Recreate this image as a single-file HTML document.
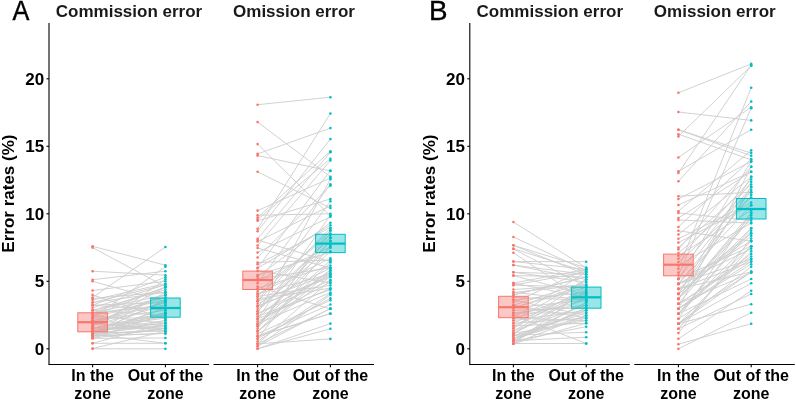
<!DOCTYPE html>
<html><head><meta charset="utf-8"><style>
html,body{margin:0;padding:0;background:#fff;overflow:hidden;width:796px;height:400px;}
svg{display:block;filter:blur(0.35px);}
text{font-family:"Liberation Sans",sans-serif;}
</style></head><body>
<svg width="796" height="400" viewBox="0 0 796 400">
<rect width="796" height="400" fill="#fff"/>

<g stroke="#cfcfcf" stroke-width="0.95" fill="none">
<path d="M92.6 246.3L165.4 265.2M92.6 247.6L165.4 286.7M92.6 297.5L165.4 247.0M92.6 271.2L165.4 275.2M92.6 279.7L165.4 271.2M92.6 281.3L165.4 301.6M92.6 290.5L165.4 281.3M92.6 294.9L165.4 319.1M92.6 298.4L165.4 292.1M92.6 348.8L165.4 348.8M92.6 343.3L165.4 343.3M92.6 343.3L165.4 323.2M92.6 338.3L165.4 338.0M92.6 338.3L165.4 313.7M92.6 348.5L165.4 331.2M92.6 334.2L165.4 343.3M92.6 338.3L165.4 328.6M92.6 336.0L165.4 333.4M92.6 336.0L165.4 333.4M92.6 333.4L165.4 330.8M92.6 333.4L165.4 330.8M92.6 323.2L165.4 330.8M92.6 328.3L165.4 328.3M92.6 336.0L165.4 328.3M92.6 323.2L165.4 328.3M92.6 320.6L165.4 325.7M92.6 330.8L165.4 325.7M92.6 333.4L165.4 325.7M92.6 315.5L165.4 323.2M92.6 330.8L165.4 323.2M92.6 330.8L165.4 323.2M92.6 336.0L165.4 320.6M92.6 330.8L165.4 320.6M92.6 328.3L165.4 318.0M92.6 318.0L165.4 318.0M92.6 310.3L165.4 315.5M92.6 333.4L165.4 315.5M92.6 328.3L165.4 315.5M92.6 328.3L165.4 312.9M92.6 333.4L165.4 312.9M92.6 328.3L165.4 312.9M92.6 305.2L165.4 310.3M92.6 320.6L165.4 310.3M92.6 336.0L165.4 307.8M92.6 333.4L165.4 307.8M92.6 325.7L165.4 305.2M92.6 312.9L165.4 305.2M92.6 323.2L165.4 302.6M92.6 320.6L165.4 302.6M92.6 305.2L165.4 302.6M92.6 315.5L165.4 300.1M92.6 333.4L165.4 300.1M92.6 333.4L165.4 300.1M92.6 312.9L165.4 297.5M92.6 318.0L165.4 297.5M92.6 325.7L165.4 294.9M92.6 310.3L165.4 294.9M92.6 323.2L165.4 294.9M92.6 302.6L165.4 292.4M92.6 333.4L165.4 292.4M92.6 310.3L165.4 289.8M92.6 325.7L165.4 287.2M92.6 312.9L165.4 287.2M92.6 315.5L165.4 287.2M92.6 307.8L165.4 284.7M92.6 302.6L165.4 284.7M92.6 300.1L165.4 283.5M92.6 330.8L165.4 279.3M92.6 305.2L165.4 277.2M92.6 318.0L165.4 266.7"/>
</g>
<g fill="#F8766D">
<circle cx="92.6" cy="246.3" r="1.3"/><circle cx="92.6" cy="247.6" r="1.3"/><circle cx="92.6" cy="297.5" r="1.3"/><circle cx="92.6" cy="271.2" r="1.3"/><circle cx="92.6" cy="279.7" r="1.3"/><circle cx="92.6" cy="281.3" r="1.3"/><circle cx="92.6" cy="290.5" r="1.3"/><circle cx="92.6" cy="294.9" r="1.3"/><circle cx="92.6" cy="298.4" r="1.3"/><circle cx="92.6" cy="348.8" r="1.3"/><circle cx="92.6" cy="343.3" r="1.3"/><circle cx="92.6" cy="343.3" r="1.3"/><circle cx="92.6" cy="338.3" r="1.3"/><circle cx="92.6" cy="338.3" r="1.3"/><circle cx="92.6" cy="348.5" r="1.3"/><circle cx="92.6" cy="334.2" r="1.3"/><circle cx="92.6" cy="338.3" r="1.3"/><circle cx="92.6" cy="336.0" r="1.3"/><circle cx="92.6" cy="336.0" r="1.3"/><circle cx="92.6" cy="333.4" r="1.3"/><circle cx="92.6" cy="333.4" r="1.3"/><circle cx="92.6" cy="323.2" r="1.3"/><circle cx="92.6" cy="328.3" r="1.3"/><circle cx="92.6" cy="336.0" r="1.3"/><circle cx="92.6" cy="323.2" r="1.3"/><circle cx="92.6" cy="320.6" r="1.3"/><circle cx="92.6" cy="330.8" r="1.3"/><circle cx="92.6" cy="333.4" r="1.3"/><circle cx="92.6" cy="315.5" r="1.3"/><circle cx="92.6" cy="330.8" r="1.3"/><circle cx="92.6" cy="330.8" r="1.3"/><circle cx="92.6" cy="336.0" r="1.3"/><circle cx="92.6" cy="330.8" r="1.3"/><circle cx="92.6" cy="328.3" r="1.3"/><circle cx="92.6" cy="318.0" r="1.3"/><circle cx="92.6" cy="310.3" r="1.3"/><circle cx="92.6" cy="333.4" r="1.3"/><circle cx="92.6" cy="328.3" r="1.3"/><circle cx="92.6" cy="328.3" r="1.3"/><circle cx="92.6" cy="333.4" r="1.3"/><circle cx="92.6" cy="328.3" r="1.3"/><circle cx="92.6" cy="305.2" r="1.3"/><circle cx="92.6" cy="320.6" r="1.3"/><circle cx="92.6" cy="336.0" r="1.3"/><circle cx="92.6" cy="333.4" r="1.3"/><circle cx="92.6" cy="325.7" r="1.3"/><circle cx="92.6" cy="312.9" r="1.3"/><circle cx="92.6" cy="323.2" r="1.3"/><circle cx="92.6" cy="320.6" r="1.3"/><circle cx="92.6" cy="305.2" r="1.3"/><circle cx="92.6" cy="315.5" r="1.3"/><circle cx="92.6" cy="333.4" r="1.3"/><circle cx="92.6" cy="333.4" r="1.3"/><circle cx="92.6" cy="312.9" r="1.3"/><circle cx="92.6" cy="318.0" r="1.3"/><circle cx="92.6" cy="325.7" r="1.3"/><circle cx="92.6" cy="310.3" r="1.3"/><circle cx="92.6" cy="323.2" r="1.3"/><circle cx="92.6" cy="302.6" r="1.3"/><circle cx="92.6" cy="333.4" r="1.3"/><circle cx="92.6" cy="310.3" r="1.3"/><circle cx="92.6" cy="325.7" r="1.3"/><circle cx="92.6" cy="312.9" r="1.3"/><circle cx="92.6" cy="315.5" r="1.3"/><circle cx="92.6" cy="307.8" r="1.3"/><circle cx="92.6" cy="302.6" r="1.3"/><circle cx="92.6" cy="300.1" r="1.3"/><circle cx="92.6" cy="330.8" r="1.3"/><circle cx="92.6" cy="305.2" r="1.3"/><circle cx="92.6" cy="318.0" r="1.3"/>
</g>
<g fill="#00BFC4">
<circle cx="165.4" cy="265.2" r="1.3"/><circle cx="165.4" cy="286.7" r="1.3"/><circle cx="165.4" cy="247.0" r="1.3"/><circle cx="165.4" cy="275.2" r="1.3"/><circle cx="165.4" cy="271.2" r="1.3"/><circle cx="165.4" cy="301.6" r="1.3"/><circle cx="165.4" cy="281.3" r="1.3"/><circle cx="165.4" cy="319.1" r="1.3"/><circle cx="165.4" cy="292.1" r="1.3"/><circle cx="165.4" cy="348.8" r="1.3"/><circle cx="165.4" cy="343.3" r="1.3"/><circle cx="165.4" cy="323.2" r="1.3"/><circle cx="165.4" cy="338.0" r="1.3"/><circle cx="165.4" cy="313.7" r="1.3"/><circle cx="165.4" cy="331.2" r="1.3"/><circle cx="165.4" cy="343.3" r="1.3"/><circle cx="165.4" cy="328.6" r="1.3"/><circle cx="165.4" cy="333.4" r="1.3"/><circle cx="165.4" cy="333.4" r="1.3"/><circle cx="165.4" cy="330.8" r="1.3"/><circle cx="165.4" cy="330.8" r="1.3"/><circle cx="165.4" cy="330.8" r="1.3"/><circle cx="165.4" cy="328.3" r="1.3"/><circle cx="165.4" cy="328.3" r="1.3"/><circle cx="165.4" cy="328.3" r="1.3"/><circle cx="165.4" cy="325.7" r="1.3"/><circle cx="165.4" cy="325.7" r="1.3"/><circle cx="165.4" cy="325.7" r="1.3"/><circle cx="165.4" cy="323.2" r="1.3"/><circle cx="165.4" cy="323.2" r="1.3"/><circle cx="165.4" cy="323.2" r="1.3"/><circle cx="165.4" cy="320.6" r="1.3"/><circle cx="165.4" cy="320.6" r="1.3"/><circle cx="165.4" cy="318.0" r="1.3"/><circle cx="165.4" cy="318.0" r="1.3"/><circle cx="165.4" cy="315.5" r="1.3"/><circle cx="165.4" cy="315.5" r="1.3"/><circle cx="165.4" cy="315.5" r="1.3"/><circle cx="165.4" cy="312.9" r="1.3"/><circle cx="165.4" cy="312.9" r="1.3"/><circle cx="165.4" cy="312.9" r="1.3"/><circle cx="165.4" cy="310.3" r="1.3"/><circle cx="165.4" cy="310.3" r="1.3"/><circle cx="165.4" cy="307.8" r="1.3"/><circle cx="165.4" cy="307.8" r="1.3"/><circle cx="165.4" cy="305.2" r="1.3"/><circle cx="165.4" cy="305.2" r="1.3"/><circle cx="165.4" cy="302.6" r="1.3"/><circle cx="165.4" cy="302.6" r="1.3"/><circle cx="165.4" cy="302.6" r="1.3"/><circle cx="165.4" cy="300.1" r="1.3"/><circle cx="165.4" cy="300.1" r="1.3"/><circle cx="165.4" cy="300.1" r="1.3"/><circle cx="165.4" cy="297.5" r="1.3"/><circle cx="165.4" cy="297.5" r="1.3"/><circle cx="165.4" cy="294.9" r="1.3"/><circle cx="165.4" cy="294.9" r="1.3"/><circle cx="165.4" cy="294.9" r="1.3"/><circle cx="165.4" cy="292.4" r="1.3"/><circle cx="165.4" cy="292.4" r="1.3"/><circle cx="165.4" cy="289.8" r="1.3"/><circle cx="165.4" cy="287.2" r="1.3"/><circle cx="165.4" cy="287.2" r="1.3"/><circle cx="165.4" cy="287.2" r="1.3"/><circle cx="165.4" cy="284.7" r="1.3"/><circle cx="165.4" cy="284.7" r="1.3"/><circle cx="165.4" cy="283.5" r="1.3"/><circle cx="165.4" cy="279.3" r="1.3"/><circle cx="165.4" cy="277.2" r="1.3"/><circle cx="165.4" cy="266.7" r="1.3"/>
</g>
<rect x="77.8" y="312.8" width="29.6" height="19.0" fill="#F8766D" fill-opacity="0.4" stroke="#F8766D" stroke-width="1"/>
<line x1="77.8" x2="107.4" y1="322.2" y2="322.2" stroke="#F8766D" stroke-width="2.2"/>
<rect x="150.6" y="298.0" width="29.6" height="19.2" fill="#00BFC4" fill-opacity="0.4" stroke="#00BFC4" stroke-width="1"/>
<line x1="150.6" x2="180.2" y1="308.0" y2="308.0" stroke="#00BFC4" stroke-width="2.2"/>
<g stroke="#cfcfcf" stroke-width="0.95" fill="none">
<path d="M257.6 104.7L330.4 97.2M257.6 122.1L330.4 176.7M257.6 144.1L330.4 215.8M257.6 153.9L330.4 128.1M257.6 155.6L330.4 171.0M257.6 171.8L330.4 208.0M257.6 228.8L330.4 113.5M257.6 231.2L330.4 139.1M257.6 217.6L330.4 151.2M257.6 219.5L330.4 158.7M257.6 238.8L330.4 152.2M257.6 267.8L330.4 170.6M257.6 348.8L330.4 328.8M257.6 343.8L330.4 338.9M257.6 348.8L330.4 323.6M257.6 336.3L330.4 313.7M257.6 336.3L330.4 313.6M257.6 286.5L330.4 309.0M257.6 343.8L330.4 308.7M257.6 346.3L330.4 308.4M257.6 336.3L330.4 304.5M257.6 333.8L330.4 300.3M257.6 338.8L330.4 298.3M257.6 346.3L330.4 294.9M257.6 341.3L330.4 293.5M257.6 323.8L330.4 292.5M257.6 316.3L330.4 289.7M257.6 318.8L330.4 288.6M257.6 298.9L330.4 288.2M257.6 296.4L330.4 285.4M257.6 270.7L330.4 283.0M257.6 321.3L330.4 282.2M257.6 343.8L330.4 280.4M257.6 313.8L330.4 280.1M257.6 306.3L330.4 277.2M257.6 331.3L330.4 276.6M257.6 306.3L330.4 275.9M257.6 313.8L330.4 274.5M257.6 293.9L330.4 273.9M257.6 301.3L330.4 273.5M257.6 331.3L330.4 271.9M257.6 326.3L330.4 270.6M257.6 323.8L330.4 269.8M257.6 303.8L330.4 268.1M257.6 248.0L330.4 268.0M257.6 278.9L330.4 267.8M257.6 288.4L330.4 265.6M257.6 331.3L330.4 262.5M257.6 240.0L330.4 261.7M257.6 323.8L330.4 260.5M257.6 262.5L330.4 260.1M257.6 293.9L330.4 258.4M257.6 275.1L330.4 252.2M257.6 318.8L330.4 251.4M257.6 308.8L330.4 247.7M257.6 280.4L330.4 247.1M257.6 338.8L330.4 245.2M257.6 311.3L330.4 241.3M257.6 326.3L330.4 240.9M257.6 306.3L330.4 238.3M257.6 311.3L330.4 237.2M257.6 291.4L330.4 234.7M257.6 326.3L330.4 233.6M257.6 296.4L330.4 231.0M257.6 328.8L330.4 229.9M257.6 301.3L330.4 228.4M257.6 264.2L330.4 227.7M257.6 268.1L330.4 225.3M257.6 276.6L330.4 222.7M257.6 252.5L330.4 216.8M257.6 318.8L330.4 215.2M257.6 215.2L330.4 213.8M257.6 241.5L330.4 205.8M257.6 301.3L330.4 201.2M257.6 220.8L330.4 199.0M257.6 257.5L330.4 185.7M257.6 283.3L330.4 184.2M257.6 313.8L330.4 179.2M257.6 210.6L330.4 178.0M257.6 245.5L330.4 160.5"/>
</g>
<g fill="#F8766D">
<circle cx="257.6" cy="104.7" r="1.3"/><circle cx="257.6" cy="122.1" r="1.3"/><circle cx="257.6" cy="144.1" r="1.3"/><circle cx="257.6" cy="153.9" r="1.3"/><circle cx="257.6" cy="155.6" r="1.3"/><circle cx="257.6" cy="171.8" r="1.3"/><circle cx="257.6" cy="228.8" r="1.3"/><circle cx="257.6" cy="231.2" r="1.3"/><circle cx="257.6" cy="217.6" r="1.3"/><circle cx="257.6" cy="219.5" r="1.3"/><circle cx="257.6" cy="238.8" r="1.3"/><circle cx="257.6" cy="267.8" r="1.3"/><circle cx="257.6" cy="348.8" r="1.3"/><circle cx="257.6" cy="343.8" r="1.3"/><circle cx="257.6" cy="348.8" r="1.3"/><circle cx="257.6" cy="336.3" r="1.3"/><circle cx="257.6" cy="336.3" r="1.3"/><circle cx="257.6" cy="286.5" r="1.3"/><circle cx="257.6" cy="343.8" r="1.3"/><circle cx="257.6" cy="346.3" r="1.3"/><circle cx="257.6" cy="336.3" r="1.3"/><circle cx="257.6" cy="333.8" r="1.3"/><circle cx="257.6" cy="338.8" r="1.3"/><circle cx="257.6" cy="346.3" r="1.3"/><circle cx="257.6" cy="341.3" r="1.3"/><circle cx="257.6" cy="323.8" r="1.3"/><circle cx="257.6" cy="316.3" r="1.3"/><circle cx="257.6" cy="318.8" r="1.3"/><circle cx="257.6" cy="298.9" r="1.3"/><circle cx="257.6" cy="296.4" r="1.3"/><circle cx="257.6" cy="270.7" r="1.3"/><circle cx="257.6" cy="321.3" r="1.3"/><circle cx="257.6" cy="343.8" r="1.3"/><circle cx="257.6" cy="313.8" r="1.3"/><circle cx="257.6" cy="306.3" r="1.3"/><circle cx="257.6" cy="331.3" r="1.3"/><circle cx="257.6" cy="306.3" r="1.3"/><circle cx="257.6" cy="313.8" r="1.3"/><circle cx="257.6" cy="293.9" r="1.3"/><circle cx="257.6" cy="301.3" r="1.3"/><circle cx="257.6" cy="331.3" r="1.3"/><circle cx="257.6" cy="326.3" r="1.3"/><circle cx="257.6" cy="323.8" r="1.3"/><circle cx="257.6" cy="303.8" r="1.3"/><circle cx="257.6" cy="248.0" r="1.3"/><circle cx="257.6" cy="278.9" r="1.3"/><circle cx="257.6" cy="288.4" r="1.3"/><circle cx="257.6" cy="331.3" r="1.3"/><circle cx="257.6" cy="240.0" r="1.3"/><circle cx="257.6" cy="323.8" r="1.3"/><circle cx="257.6" cy="262.5" r="1.3"/><circle cx="257.6" cy="293.9" r="1.3"/><circle cx="257.6" cy="275.1" r="1.3"/><circle cx="257.6" cy="318.8" r="1.3"/><circle cx="257.6" cy="308.8" r="1.3"/><circle cx="257.6" cy="280.4" r="1.3"/><circle cx="257.6" cy="338.8" r="1.3"/><circle cx="257.6" cy="311.3" r="1.3"/><circle cx="257.6" cy="326.3" r="1.3"/><circle cx="257.6" cy="306.3" r="1.3"/><circle cx="257.6" cy="311.3" r="1.3"/><circle cx="257.6" cy="291.4" r="1.3"/><circle cx="257.6" cy="326.3" r="1.3"/><circle cx="257.6" cy="296.4" r="1.3"/><circle cx="257.6" cy="328.8" r="1.3"/><circle cx="257.6" cy="301.3" r="1.3"/><circle cx="257.6" cy="264.2" r="1.3"/><circle cx="257.6" cy="268.1" r="1.3"/><circle cx="257.6" cy="276.6" r="1.3"/><circle cx="257.6" cy="252.5" r="1.3"/><circle cx="257.6" cy="318.8" r="1.3"/><circle cx="257.6" cy="215.2" r="1.3"/><circle cx="257.6" cy="241.5" r="1.3"/><circle cx="257.6" cy="301.3" r="1.3"/><circle cx="257.6" cy="220.8" r="1.3"/><circle cx="257.6" cy="257.5" r="1.3"/><circle cx="257.6" cy="283.3" r="1.3"/><circle cx="257.6" cy="313.8" r="1.3"/><circle cx="257.6" cy="210.6" r="1.3"/><circle cx="257.6" cy="245.5" r="1.3"/>
</g>
<g fill="#00BFC4">
<circle cx="330.4" cy="97.2" r="1.3"/><circle cx="330.4" cy="176.7" r="1.3"/><circle cx="330.4" cy="215.8" r="1.3"/><circle cx="330.4" cy="128.1" r="1.3"/><circle cx="330.4" cy="171.0" r="1.3"/><circle cx="330.4" cy="208.0" r="1.3"/><circle cx="330.4" cy="113.5" r="1.3"/><circle cx="330.4" cy="139.1" r="1.3"/><circle cx="330.4" cy="151.2" r="1.3"/><circle cx="330.4" cy="158.7" r="1.3"/><circle cx="330.4" cy="152.2" r="1.3"/><circle cx="330.4" cy="170.6" r="1.3"/><circle cx="330.4" cy="328.8" r="1.3"/><circle cx="330.4" cy="338.9" r="1.3"/><circle cx="330.4" cy="323.6" r="1.3"/><circle cx="330.4" cy="313.7" r="1.3"/><circle cx="330.4" cy="313.6" r="1.3"/><circle cx="330.4" cy="309.0" r="1.3"/><circle cx="330.4" cy="308.7" r="1.3"/><circle cx="330.4" cy="308.4" r="1.3"/><circle cx="330.4" cy="304.5" r="1.3"/><circle cx="330.4" cy="300.3" r="1.3"/><circle cx="330.4" cy="298.3" r="1.3"/><circle cx="330.4" cy="294.9" r="1.3"/><circle cx="330.4" cy="293.5" r="1.3"/><circle cx="330.4" cy="292.5" r="1.3"/><circle cx="330.4" cy="289.7" r="1.3"/><circle cx="330.4" cy="288.6" r="1.3"/><circle cx="330.4" cy="288.2" r="1.3"/><circle cx="330.4" cy="285.4" r="1.3"/><circle cx="330.4" cy="283.0" r="1.3"/><circle cx="330.4" cy="282.2" r="1.3"/><circle cx="330.4" cy="280.4" r="1.3"/><circle cx="330.4" cy="280.1" r="1.3"/><circle cx="330.4" cy="277.2" r="1.3"/><circle cx="330.4" cy="276.6" r="1.3"/><circle cx="330.4" cy="275.9" r="1.3"/><circle cx="330.4" cy="274.5" r="1.3"/><circle cx="330.4" cy="273.9" r="1.3"/><circle cx="330.4" cy="273.5" r="1.3"/><circle cx="330.4" cy="271.9" r="1.3"/><circle cx="330.4" cy="270.6" r="1.3"/><circle cx="330.4" cy="269.8" r="1.3"/><circle cx="330.4" cy="268.1" r="1.3"/><circle cx="330.4" cy="268.0" r="1.3"/><circle cx="330.4" cy="267.8" r="1.3"/><circle cx="330.4" cy="265.6" r="1.3"/><circle cx="330.4" cy="262.5" r="1.3"/><circle cx="330.4" cy="261.7" r="1.3"/><circle cx="330.4" cy="260.5" r="1.3"/><circle cx="330.4" cy="260.1" r="1.3"/><circle cx="330.4" cy="258.4" r="1.3"/><circle cx="330.4" cy="252.2" r="1.3"/><circle cx="330.4" cy="251.4" r="1.3"/><circle cx="330.4" cy="247.7" r="1.3"/><circle cx="330.4" cy="247.1" r="1.3"/><circle cx="330.4" cy="245.2" r="1.3"/><circle cx="330.4" cy="241.3" r="1.3"/><circle cx="330.4" cy="240.9" r="1.3"/><circle cx="330.4" cy="238.3" r="1.3"/><circle cx="330.4" cy="237.2" r="1.3"/><circle cx="330.4" cy="234.7" r="1.3"/><circle cx="330.4" cy="233.6" r="1.3"/><circle cx="330.4" cy="231.0" r="1.3"/><circle cx="330.4" cy="229.9" r="1.3"/><circle cx="330.4" cy="228.4" r="1.3"/><circle cx="330.4" cy="227.7" r="1.3"/><circle cx="330.4" cy="225.3" r="1.3"/><circle cx="330.4" cy="222.7" r="1.3"/><circle cx="330.4" cy="216.8" r="1.3"/><circle cx="330.4" cy="215.2" r="1.3"/><circle cx="330.4" cy="213.8" r="1.3"/><circle cx="330.4" cy="205.8" r="1.3"/><circle cx="330.4" cy="201.2" r="1.3"/><circle cx="330.4" cy="199.0" r="1.3"/><circle cx="330.4" cy="185.7" r="1.3"/><circle cx="330.4" cy="184.2" r="1.3"/><circle cx="330.4" cy="179.2" r="1.3"/><circle cx="330.4" cy="178.0" r="1.3"/><circle cx="330.4" cy="160.5" r="1.3"/>
</g>
<rect x="242.8" y="271.1" width="29.6" height="18.4" fill="#F8766D" fill-opacity="0.4" stroke="#F8766D" stroke-width="1"/>
<line x1="242.8" x2="272.4" y1="280.0" y2="280.0" stroke="#F8766D" stroke-width="2.2"/>
<rect x="315.6" y="234.3" width="29.6" height="18.3" fill="#00BFC4" fill-opacity="0.4" stroke="#00BFC4" stroke-width="1"/>
<line x1="315.6" x2="345.2" y1="243.6" y2="243.6" stroke="#00BFC4" stroke-width="2.2"/>
<g stroke="#cfcfcf" stroke-width="0.95" fill="none">
<path d="M513.4 222.0L586.2 267.8M513.4 237.0L586.2 270.5M513.4 245.3L586.2 274.6M513.4 249.0L586.2 286.7M513.4 252.7L586.2 301.6M513.4 315.1L586.2 343.5M513.4 343.5L586.2 343.5M513.4 340.7L586.2 337.2M513.4 335.3L586.2 332.2M513.4 341.1L586.2 326.7M513.4 325.7L586.2 323.2M513.4 343.5L586.2 323.2M513.4 333.4L586.2 320.6M513.4 318.0L586.2 320.6M513.4 323.2L586.2 318.0M513.4 338.5L586.2 318.0M513.4 305.2L586.2 318.0M513.4 338.5L586.2 315.5M513.4 343.7L586.2 315.5M513.4 300.1L586.2 315.5M513.4 336.0L586.2 312.9M513.4 312.9L586.2 312.9M513.4 338.5L586.2 310.3M513.4 336.0L586.2 310.3M513.4 320.6L586.2 310.3M513.4 341.1L586.2 307.8M513.4 310.3L586.2 307.8M513.4 341.1L586.2 307.8M513.4 330.8L586.2 305.2M513.4 312.9L586.2 305.2M513.4 338.9L586.2 302.6M513.4 341.1L586.2 302.6M513.4 318.0L586.2 300.1M513.4 297.5L586.2 300.1M513.4 307.8L586.2 300.1M513.4 292.4L586.2 300.1M513.4 283.1L586.2 297.5M513.4 333.4L586.2 297.5M513.4 315.5L586.2 294.9M513.4 275.6L586.2 294.9M513.4 300.1L586.2 292.4M513.4 330.8L586.2 292.4M513.4 325.7L586.2 292.4M513.4 333.4L586.2 292.4M513.4 343.7L586.2 289.8M513.4 323.2L586.2 289.8M513.4 307.8L586.2 287.2M513.4 285.1L586.2 287.2M513.4 328.3L586.2 287.2M513.4 292.4L586.2 284.7M513.4 307.8L586.2 284.7M513.4 289.5L586.2 284.7M513.4 305.2L586.2 282.1M513.4 272.3L586.2 282.1M513.4 328.3L586.2 279.5M513.4 265.1L586.2 279.5M513.4 320.6L586.2 279.5M513.4 294.9L586.2 277.0M513.4 294.9L586.2 277.0M513.4 275.6L586.2 277.0M513.4 265.1L586.2 274.4M513.4 272.3L586.2 274.4M513.4 248.6L586.2 271.9M513.4 285.1L586.2 271.9M513.4 318.0L586.2 271.9M513.4 302.6L586.2 269.3M513.4 283.1L586.2 269.3M513.4 261.5L586.2 269.3M513.4 245.3L586.2 267.7M513.4 261.5L586.2 261.7"/>
</g>
<g fill="#F8766D">
<circle cx="513.4" cy="222.0" r="1.3"/><circle cx="513.4" cy="237.0" r="1.3"/><circle cx="513.4" cy="245.3" r="1.3"/><circle cx="513.4" cy="249.0" r="1.3"/><circle cx="513.4" cy="252.7" r="1.3"/><circle cx="513.4" cy="315.1" r="1.3"/><circle cx="513.4" cy="343.5" r="1.3"/><circle cx="513.4" cy="340.7" r="1.3"/><circle cx="513.4" cy="335.3" r="1.3"/><circle cx="513.4" cy="341.1" r="1.3"/><circle cx="513.4" cy="325.7" r="1.3"/><circle cx="513.4" cy="343.5" r="1.3"/><circle cx="513.4" cy="333.4" r="1.3"/><circle cx="513.4" cy="318.0" r="1.3"/><circle cx="513.4" cy="323.2" r="1.3"/><circle cx="513.4" cy="338.5" r="1.3"/><circle cx="513.4" cy="305.2" r="1.3"/><circle cx="513.4" cy="338.5" r="1.3"/><circle cx="513.4" cy="343.7" r="1.3"/><circle cx="513.4" cy="300.1" r="1.3"/><circle cx="513.4" cy="336.0" r="1.3"/><circle cx="513.4" cy="312.9" r="1.3"/><circle cx="513.4" cy="338.5" r="1.3"/><circle cx="513.4" cy="336.0" r="1.3"/><circle cx="513.4" cy="320.6" r="1.3"/><circle cx="513.4" cy="341.1" r="1.3"/><circle cx="513.4" cy="310.3" r="1.3"/><circle cx="513.4" cy="341.1" r="1.3"/><circle cx="513.4" cy="330.8" r="1.3"/><circle cx="513.4" cy="312.9" r="1.3"/><circle cx="513.4" cy="338.9" r="1.3"/><circle cx="513.4" cy="341.1" r="1.3"/><circle cx="513.4" cy="318.0" r="1.3"/><circle cx="513.4" cy="297.5" r="1.3"/><circle cx="513.4" cy="307.8" r="1.3"/><circle cx="513.4" cy="292.4" r="1.3"/><circle cx="513.4" cy="283.1" r="1.3"/><circle cx="513.4" cy="333.4" r="1.3"/><circle cx="513.4" cy="315.5" r="1.3"/><circle cx="513.4" cy="275.6" r="1.3"/><circle cx="513.4" cy="300.1" r="1.3"/><circle cx="513.4" cy="330.8" r="1.3"/><circle cx="513.4" cy="325.7" r="1.3"/><circle cx="513.4" cy="333.4" r="1.3"/><circle cx="513.4" cy="343.7" r="1.3"/><circle cx="513.4" cy="323.2" r="1.3"/><circle cx="513.4" cy="307.8" r="1.3"/><circle cx="513.4" cy="285.1" r="1.3"/><circle cx="513.4" cy="328.3" r="1.3"/><circle cx="513.4" cy="292.4" r="1.3"/><circle cx="513.4" cy="307.8" r="1.3"/><circle cx="513.4" cy="289.5" r="1.3"/><circle cx="513.4" cy="305.2" r="1.3"/><circle cx="513.4" cy="272.3" r="1.3"/><circle cx="513.4" cy="328.3" r="1.3"/><circle cx="513.4" cy="265.1" r="1.3"/><circle cx="513.4" cy="320.6" r="1.3"/><circle cx="513.4" cy="294.9" r="1.3"/><circle cx="513.4" cy="294.9" r="1.3"/><circle cx="513.4" cy="275.6" r="1.3"/><circle cx="513.4" cy="265.1" r="1.3"/><circle cx="513.4" cy="272.3" r="1.3"/><circle cx="513.4" cy="248.6" r="1.3"/><circle cx="513.4" cy="285.1" r="1.3"/><circle cx="513.4" cy="318.0" r="1.3"/><circle cx="513.4" cy="302.6" r="1.3"/><circle cx="513.4" cy="283.1" r="1.3"/><circle cx="513.4" cy="261.5" r="1.3"/><circle cx="513.4" cy="245.3" r="1.3"/><circle cx="513.4" cy="261.5" r="1.3"/>
</g>
<g fill="#00BFC4">
<circle cx="586.2" cy="267.8" r="1.3"/><circle cx="586.2" cy="270.5" r="1.3"/><circle cx="586.2" cy="274.6" r="1.3"/><circle cx="586.2" cy="286.7" r="1.3"/><circle cx="586.2" cy="301.6" r="1.3"/><circle cx="586.2" cy="343.5" r="1.3"/><circle cx="586.2" cy="343.5" r="1.3"/><circle cx="586.2" cy="337.2" r="1.3"/><circle cx="586.2" cy="332.2" r="1.3"/><circle cx="586.2" cy="326.7" r="1.3"/><circle cx="586.2" cy="323.2" r="1.3"/><circle cx="586.2" cy="323.2" r="1.3"/><circle cx="586.2" cy="320.6" r="1.3"/><circle cx="586.2" cy="320.6" r="1.3"/><circle cx="586.2" cy="318.0" r="1.3"/><circle cx="586.2" cy="318.0" r="1.3"/><circle cx="586.2" cy="318.0" r="1.3"/><circle cx="586.2" cy="315.5" r="1.3"/><circle cx="586.2" cy="315.5" r="1.3"/><circle cx="586.2" cy="315.5" r="1.3"/><circle cx="586.2" cy="312.9" r="1.3"/><circle cx="586.2" cy="312.9" r="1.3"/><circle cx="586.2" cy="310.3" r="1.3"/><circle cx="586.2" cy="310.3" r="1.3"/><circle cx="586.2" cy="310.3" r="1.3"/><circle cx="586.2" cy="307.8" r="1.3"/><circle cx="586.2" cy="307.8" r="1.3"/><circle cx="586.2" cy="307.8" r="1.3"/><circle cx="586.2" cy="305.2" r="1.3"/><circle cx="586.2" cy="305.2" r="1.3"/><circle cx="586.2" cy="302.6" r="1.3"/><circle cx="586.2" cy="302.6" r="1.3"/><circle cx="586.2" cy="300.1" r="1.3"/><circle cx="586.2" cy="300.1" r="1.3"/><circle cx="586.2" cy="300.1" r="1.3"/><circle cx="586.2" cy="300.1" r="1.3"/><circle cx="586.2" cy="297.5" r="1.3"/><circle cx="586.2" cy="297.5" r="1.3"/><circle cx="586.2" cy="294.9" r="1.3"/><circle cx="586.2" cy="294.9" r="1.3"/><circle cx="586.2" cy="292.4" r="1.3"/><circle cx="586.2" cy="292.4" r="1.3"/><circle cx="586.2" cy="292.4" r="1.3"/><circle cx="586.2" cy="292.4" r="1.3"/><circle cx="586.2" cy="289.8" r="1.3"/><circle cx="586.2" cy="289.8" r="1.3"/><circle cx="586.2" cy="287.2" r="1.3"/><circle cx="586.2" cy="287.2" r="1.3"/><circle cx="586.2" cy="287.2" r="1.3"/><circle cx="586.2" cy="284.7" r="1.3"/><circle cx="586.2" cy="284.7" r="1.3"/><circle cx="586.2" cy="284.7" r="1.3"/><circle cx="586.2" cy="282.1" r="1.3"/><circle cx="586.2" cy="282.1" r="1.3"/><circle cx="586.2" cy="279.5" r="1.3"/><circle cx="586.2" cy="279.5" r="1.3"/><circle cx="586.2" cy="279.5" r="1.3"/><circle cx="586.2" cy="277.0" r="1.3"/><circle cx="586.2" cy="277.0" r="1.3"/><circle cx="586.2" cy="277.0" r="1.3"/><circle cx="586.2" cy="274.4" r="1.3"/><circle cx="586.2" cy="274.4" r="1.3"/><circle cx="586.2" cy="271.9" r="1.3"/><circle cx="586.2" cy="271.9" r="1.3"/><circle cx="586.2" cy="271.9" r="1.3"/><circle cx="586.2" cy="269.3" r="1.3"/><circle cx="586.2" cy="269.3" r="1.3"/><circle cx="586.2" cy="269.3" r="1.3"/><circle cx="586.2" cy="267.7" r="1.3"/><circle cx="586.2" cy="261.7" r="1.3"/>
</g>
<rect x="498.6" y="296.3" width="29.6" height="21.4" fill="#F8766D" fill-opacity="0.4" stroke="#F8766D" stroke-width="1"/>
<line x1="498.6" x2="528.2" y1="307.2" y2="307.2" stroke="#F8766D" stroke-width="2.2"/>
<rect x="571.4" y="287.1" width="29.6" height="21.1" fill="#00BFC4" fill-opacity="0.4" stroke="#00BFC4" stroke-width="1"/>
<line x1="571.4" x2="601.0" y1="297.3" y2="297.3" stroke="#00BFC4" stroke-width="2.2"/>
<g stroke="#cfcfcf" stroke-width="0.95" fill="none">
<path d="M678.4 92.8L751.2 63.9M678.4 136.4L751.2 65.8M678.4 173.0L751.2 65.3M678.4 112.0L751.2 120.4M678.4 129.7L751.2 153.1M678.4 129.7L751.2 155.8M678.4 134.2L751.2 159.8M678.4 157.5L751.2 107.2M678.4 171.3L751.2 129.7M678.4 348.8L751.2 312.8M678.4 344.2L751.2 323.7M678.4 338.8L751.2 290.8M678.4 323.8L751.2 304.2M678.4 328.8L751.2 294.0M678.4 323.8L751.2 283.2M678.4 313.8L751.2 279.0M678.4 303.8L751.2 272.7M678.4 318.8L751.2 271.9M678.4 288.9L751.2 271.9M678.4 323.8L751.2 271.9M678.4 323.8L751.2 266.7M678.4 308.8L751.2 264.2M678.4 288.9L751.2 261.6M678.4 308.8L751.2 261.6M678.4 303.8L751.2 259.0M678.4 283.9L751.2 259.0M678.4 303.8L751.2 256.5M678.4 308.8L751.2 253.9M678.4 323.8L751.2 251.3M678.4 283.9L751.2 248.8M678.4 328.8L751.2 246.2M678.4 278.9L751.2 246.2M678.4 313.8L751.2 246.2M678.4 313.8L751.2 241.1M678.4 230.8L751.2 241.1M678.4 283.9L751.2 241.1M678.4 333.1L751.2 238.5M678.4 293.9L751.2 235.9M678.4 293.9L751.2 233.4M678.4 288.9L751.2 233.4M678.4 313.8L751.2 230.8M678.4 313.8L751.2 228.2M678.4 298.9L751.2 228.2M678.4 220.0L751.2 223.1M678.4 265.5L751.2 223.1M678.4 213.0L751.2 220.6M678.4 303.8L751.2 218.0M678.4 298.9L751.2 218.0M678.4 298.9L751.2 215.4M678.4 298.9L751.2 212.9M678.4 318.8L751.2 212.9M678.4 255.7L751.2 210.3M678.4 283.9L751.2 205.2M678.4 242.6L751.2 205.2M678.4 238.8L751.2 202.6M678.4 262.0L751.2 197.5M678.4 283.9L751.2 194.9M678.4 196.2L751.2 192.3M678.4 253.0L751.2 192.3M678.4 293.9L751.2 189.8M678.4 298.9L751.2 187.2M678.4 278.9L751.2 186.8M678.4 247.6L751.2 184.6M678.4 272.5L751.2 182.1M678.4 258.8L751.2 179.5M678.4 293.9L751.2 176.9M678.4 234.5L751.2 176.9M678.4 218.0L751.2 171.8M678.4 205.0L751.2 171.8M678.4 308.8L751.2 166.7M678.4 249.4L751.2 166.7M678.4 199.0L751.2 161.6M678.4 278.9L751.2 161.6M678.4 227.0L751.2 159.0M678.4 211.2L751.2 150.4M678.4 275.2L751.2 108.2M678.4 181.3L751.2 101.5M678.4 268.7L751.2 87.7"/>
</g>
<g fill="#F8766D">
<circle cx="678.4" cy="92.8" r="1.3"/><circle cx="678.4" cy="136.4" r="1.3"/><circle cx="678.4" cy="173.0" r="1.3"/><circle cx="678.4" cy="112.0" r="1.3"/><circle cx="678.4" cy="129.7" r="1.3"/><circle cx="678.4" cy="129.7" r="1.3"/><circle cx="678.4" cy="134.2" r="1.3"/><circle cx="678.4" cy="157.5" r="1.3"/><circle cx="678.4" cy="171.3" r="1.3"/><circle cx="678.4" cy="348.8" r="1.3"/><circle cx="678.4" cy="344.2" r="1.3"/><circle cx="678.4" cy="338.8" r="1.3"/><circle cx="678.4" cy="323.8" r="1.3"/><circle cx="678.4" cy="328.8" r="1.3"/><circle cx="678.4" cy="323.8" r="1.3"/><circle cx="678.4" cy="313.8" r="1.3"/><circle cx="678.4" cy="303.8" r="1.3"/><circle cx="678.4" cy="318.8" r="1.3"/><circle cx="678.4" cy="288.9" r="1.3"/><circle cx="678.4" cy="323.8" r="1.3"/><circle cx="678.4" cy="323.8" r="1.3"/><circle cx="678.4" cy="308.8" r="1.3"/><circle cx="678.4" cy="288.9" r="1.3"/><circle cx="678.4" cy="308.8" r="1.3"/><circle cx="678.4" cy="303.8" r="1.3"/><circle cx="678.4" cy="283.9" r="1.3"/><circle cx="678.4" cy="303.8" r="1.3"/><circle cx="678.4" cy="308.8" r="1.3"/><circle cx="678.4" cy="323.8" r="1.3"/><circle cx="678.4" cy="283.9" r="1.3"/><circle cx="678.4" cy="328.8" r="1.3"/><circle cx="678.4" cy="278.9" r="1.3"/><circle cx="678.4" cy="313.8" r="1.3"/><circle cx="678.4" cy="313.8" r="1.3"/><circle cx="678.4" cy="230.8" r="1.3"/><circle cx="678.4" cy="283.9" r="1.3"/><circle cx="678.4" cy="333.1" r="1.3"/><circle cx="678.4" cy="293.9" r="1.3"/><circle cx="678.4" cy="293.9" r="1.3"/><circle cx="678.4" cy="288.9" r="1.3"/><circle cx="678.4" cy="313.8" r="1.3"/><circle cx="678.4" cy="313.8" r="1.3"/><circle cx="678.4" cy="298.9" r="1.3"/><circle cx="678.4" cy="220.0" r="1.3"/><circle cx="678.4" cy="265.5" r="1.3"/><circle cx="678.4" cy="213.0" r="1.3"/><circle cx="678.4" cy="303.8" r="1.3"/><circle cx="678.4" cy="298.9" r="1.3"/><circle cx="678.4" cy="298.9" r="1.3"/><circle cx="678.4" cy="298.9" r="1.3"/><circle cx="678.4" cy="318.8" r="1.3"/><circle cx="678.4" cy="255.7" r="1.3"/><circle cx="678.4" cy="283.9" r="1.3"/><circle cx="678.4" cy="242.6" r="1.3"/><circle cx="678.4" cy="238.8" r="1.3"/><circle cx="678.4" cy="262.0" r="1.3"/><circle cx="678.4" cy="283.9" r="1.3"/><circle cx="678.4" cy="196.2" r="1.3"/><circle cx="678.4" cy="253.0" r="1.3"/><circle cx="678.4" cy="293.9" r="1.3"/><circle cx="678.4" cy="298.9" r="1.3"/><circle cx="678.4" cy="278.9" r="1.3"/><circle cx="678.4" cy="247.6" r="1.3"/><circle cx="678.4" cy="272.5" r="1.3"/><circle cx="678.4" cy="258.8" r="1.3"/><circle cx="678.4" cy="293.9" r="1.3"/><circle cx="678.4" cy="234.5" r="1.3"/><circle cx="678.4" cy="218.0" r="1.3"/><circle cx="678.4" cy="205.0" r="1.3"/><circle cx="678.4" cy="308.8" r="1.3"/><circle cx="678.4" cy="249.4" r="1.3"/><circle cx="678.4" cy="199.0" r="1.3"/><circle cx="678.4" cy="278.9" r="1.3"/><circle cx="678.4" cy="227.0" r="1.3"/><circle cx="678.4" cy="211.2" r="1.3"/><circle cx="678.4" cy="275.2" r="1.3"/><circle cx="678.4" cy="181.3" r="1.3"/><circle cx="678.4" cy="268.7" r="1.3"/>
</g>
<g fill="#00BFC4">
<circle cx="751.2" cy="63.9" r="1.3"/><circle cx="751.2" cy="65.8" r="1.3"/><circle cx="751.2" cy="65.3" r="1.3"/><circle cx="751.2" cy="120.4" r="1.3"/><circle cx="751.2" cy="153.1" r="1.3"/><circle cx="751.2" cy="155.8" r="1.3"/><circle cx="751.2" cy="159.8" r="1.3"/><circle cx="751.2" cy="107.2" r="1.3"/><circle cx="751.2" cy="129.7" r="1.3"/><circle cx="751.2" cy="312.8" r="1.3"/><circle cx="751.2" cy="323.7" r="1.3"/><circle cx="751.2" cy="290.8" r="1.3"/><circle cx="751.2" cy="304.2" r="1.3"/><circle cx="751.2" cy="294.0" r="1.3"/><circle cx="751.2" cy="283.2" r="1.3"/><circle cx="751.2" cy="279.0" r="1.3"/><circle cx="751.2" cy="272.7" r="1.3"/><circle cx="751.2" cy="271.9" r="1.3"/><circle cx="751.2" cy="271.9" r="1.3"/><circle cx="751.2" cy="271.9" r="1.3"/><circle cx="751.2" cy="266.7" r="1.3"/><circle cx="751.2" cy="264.2" r="1.3"/><circle cx="751.2" cy="261.6" r="1.3"/><circle cx="751.2" cy="261.6" r="1.3"/><circle cx="751.2" cy="259.0" r="1.3"/><circle cx="751.2" cy="259.0" r="1.3"/><circle cx="751.2" cy="256.5" r="1.3"/><circle cx="751.2" cy="253.9" r="1.3"/><circle cx="751.2" cy="251.3" r="1.3"/><circle cx="751.2" cy="248.8" r="1.3"/><circle cx="751.2" cy="246.2" r="1.3"/><circle cx="751.2" cy="246.2" r="1.3"/><circle cx="751.2" cy="246.2" r="1.3"/><circle cx="751.2" cy="241.1" r="1.3"/><circle cx="751.2" cy="241.1" r="1.3"/><circle cx="751.2" cy="241.1" r="1.3"/><circle cx="751.2" cy="238.5" r="1.3"/><circle cx="751.2" cy="235.9" r="1.3"/><circle cx="751.2" cy="233.4" r="1.3"/><circle cx="751.2" cy="233.4" r="1.3"/><circle cx="751.2" cy="230.8" r="1.3"/><circle cx="751.2" cy="228.2" r="1.3"/><circle cx="751.2" cy="228.2" r="1.3"/><circle cx="751.2" cy="223.1" r="1.3"/><circle cx="751.2" cy="223.1" r="1.3"/><circle cx="751.2" cy="220.6" r="1.3"/><circle cx="751.2" cy="218.0" r="1.3"/><circle cx="751.2" cy="218.0" r="1.3"/><circle cx="751.2" cy="215.4" r="1.3"/><circle cx="751.2" cy="212.9" r="1.3"/><circle cx="751.2" cy="212.9" r="1.3"/><circle cx="751.2" cy="210.3" r="1.3"/><circle cx="751.2" cy="205.2" r="1.3"/><circle cx="751.2" cy="205.2" r="1.3"/><circle cx="751.2" cy="202.6" r="1.3"/><circle cx="751.2" cy="197.5" r="1.3"/><circle cx="751.2" cy="194.9" r="1.3"/><circle cx="751.2" cy="192.3" r="1.3"/><circle cx="751.2" cy="192.3" r="1.3"/><circle cx="751.2" cy="189.8" r="1.3"/><circle cx="751.2" cy="187.2" r="1.3"/><circle cx="751.2" cy="186.8" r="1.3"/><circle cx="751.2" cy="184.6" r="1.3"/><circle cx="751.2" cy="182.1" r="1.3"/><circle cx="751.2" cy="179.5" r="1.3"/><circle cx="751.2" cy="176.9" r="1.3"/><circle cx="751.2" cy="176.9" r="1.3"/><circle cx="751.2" cy="171.8" r="1.3"/><circle cx="751.2" cy="171.8" r="1.3"/><circle cx="751.2" cy="166.7" r="1.3"/><circle cx="751.2" cy="166.7" r="1.3"/><circle cx="751.2" cy="161.6" r="1.3"/><circle cx="751.2" cy="161.6" r="1.3"/><circle cx="751.2" cy="159.0" r="1.3"/><circle cx="751.2" cy="150.4" r="1.3"/><circle cx="751.2" cy="108.2" r="1.3"/><circle cx="751.2" cy="101.5" r="1.3"/><circle cx="751.2" cy="87.7" r="1.3"/>
</g>
<rect x="663.6" y="254.1" width="29.6" height="21.7" fill="#F8766D" fill-opacity="0.4" stroke="#F8766D" stroke-width="1"/>
<line x1="663.6" x2="693.2" y1="264.7" y2="264.7" stroke="#F8766D" stroke-width="2.2"/>
<rect x="736.4" y="198.5" width="29.6" height="20.5" fill="#00BFC4" fill-opacity="0.4" stroke="#00BFC4" stroke-width="1"/>
<line x1="736.4" x2="766.0" y1="209.0" y2="209.0" stroke="#00BFC4" stroke-width="2.2"/>
<g stroke="#000" stroke-width="1.1" fill="none">
<line x1="49.0" x2="49.0" y1="23" y2="364.5"/>
<line x1="48.5" x2="209.0" y1="364.5" y2="364.5"/>
<line x1="92.6" x2="92.6" y1="364.5" y2="367.3"/>
<line x1="165.4" x2="165.4" y1="364.5" y2="367.3"/>
<line x1="213.5" x2="374.0" y1="364.5" y2="364.5"/>
<line x1="257.6" x2="257.6" y1="364.5" y2="367.3"/>
<line x1="330.4" x2="330.4" y1="364.5" y2="367.3"/>
<line x1="46.5" x2="49.0" y1="348.8" y2="348.8"/>
<line x1="46.5" x2="49.0" y1="281.3" y2="281.3"/>
<line x1="46.5" x2="49.0" y1="213.8" y2="213.8"/>
<line x1="46.5" x2="49.0" y1="146.3" y2="146.3"/>
<line x1="46.5" x2="49.0" y1="78.8" y2="78.8"/>
</g>
<text x="44.2" y="354.9" font-size="17" font-weight="bold" text-anchor="end" fill="#000">0</text>
<text x="44.2" y="287.4" font-size="17" font-weight="bold" text-anchor="end" fill="#000">5</text>
<text x="44.2" y="219.9" font-size="17" font-weight="bold" text-anchor="end" fill="#000">10</text>
<text x="44.2" y="152.4" font-size="17" font-weight="bold" text-anchor="end" fill="#000">15</text>
<text x="44.2" y="84.9" font-size="17" font-weight="bold" text-anchor="end" fill="#000">20</text>
<text transform="translate(13.9,193.6) rotate(-90)" font-size="17" font-weight="bold" text-anchor="middle" fill="#000">Error rates (%)</text>
<text x="129.0" y="16.5" font-size="17" font-weight="bold" text-anchor="middle" fill="#1a1a1a">Commission error</text>
<text x="294.0" y="16.5" font-size="17" font-weight="bold" text-anchor="middle" fill="#1a1a1a">Omission error</text>
<text x="92.6" y="380.9" font-size="16" font-weight="bold" text-anchor="middle" fill="#000">In the</text>
<text x="92.6" y="398.5" font-size="16" font-weight="bold" text-anchor="middle" fill="#000">zone</text>
<text x="165.4" y="380.9" font-size="16" font-weight="bold" text-anchor="middle" fill="#000">Out of the</text>
<text x="165.4" y="398.5" font-size="16" font-weight="bold" text-anchor="middle" fill="#000">zone</text>
<text x="257.6" y="380.9" font-size="16" font-weight="bold" text-anchor="middle" fill="#000">In the</text>
<text x="257.6" y="398.5" font-size="16" font-weight="bold" text-anchor="middle" fill="#000">zone</text>
<text x="330.4" y="380.9" font-size="16" font-weight="bold" text-anchor="middle" fill="#000">Out of the</text>
<text x="330.4" y="398.5" font-size="16" font-weight="bold" text-anchor="middle" fill="#000">zone</text>
<g stroke="#000" stroke-width="1.1" fill="none">
<line x1="469.8" x2="469.8" y1="23" y2="364.5"/>
<line x1="469.3" x2="629.8" y1="364.5" y2="364.5"/>
<line x1="513.4" x2="513.4" y1="364.5" y2="367.3"/>
<line x1="586.2" x2="586.2" y1="364.5" y2="367.3"/>
<line x1="634.3" x2="794.8" y1="364.5" y2="364.5"/>
<line x1="678.4" x2="678.4" y1="364.5" y2="367.3"/>
<line x1="751.2" x2="751.2" y1="364.5" y2="367.3"/>
<line x1="467.3" x2="469.8" y1="348.8" y2="348.8"/>
<line x1="467.3" x2="469.8" y1="281.3" y2="281.3"/>
<line x1="467.3" x2="469.8" y1="213.8" y2="213.8"/>
<line x1="467.3" x2="469.8" y1="146.3" y2="146.3"/>
<line x1="467.3" x2="469.8" y1="78.8" y2="78.8"/>
</g>
<text x="465.0" y="354.9" font-size="17" font-weight="bold" text-anchor="end" fill="#000">0</text>
<text x="465.0" y="287.4" font-size="17" font-weight="bold" text-anchor="end" fill="#000">5</text>
<text x="465.0" y="219.9" font-size="17" font-weight="bold" text-anchor="end" fill="#000">10</text>
<text x="465.0" y="152.4" font-size="17" font-weight="bold" text-anchor="end" fill="#000">15</text>
<text x="465.0" y="84.9" font-size="17" font-weight="bold" text-anchor="end" fill="#000">20</text>
<text transform="translate(434.7,193.6) rotate(-90)" font-size="17" font-weight="bold" text-anchor="middle" fill="#000">Error rates (%)</text>
<text x="549.8" y="16.5" font-size="17" font-weight="bold" text-anchor="middle" fill="#1a1a1a">Commission error</text>
<text x="714.8" y="16.5" font-size="17" font-weight="bold" text-anchor="middle" fill="#1a1a1a">Omission error</text>
<text x="513.4" y="380.9" font-size="16" font-weight="bold" text-anchor="middle" fill="#000">In the</text>
<text x="513.4" y="398.5" font-size="16" font-weight="bold" text-anchor="middle" fill="#000">zone</text>
<text x="586.2" y="380.9" font-size="16" font-weight="bold" text-anchor="middle" fill="#000">Out of the</text>
<text x="586.2" y="398.5" font-size="16" font-weight="bold" text-anchor="middle" fill="#000">zone</text>
<text x="678.4" y="380.9" font-size="16" font-weight="bold" text-anchor="middle" fill="#000">In the</text>
<text x="678.4" y="398.5" font-size="16" font-weight="bold" text-anchor="middle" fill="#000">zone</text>
<text x="751.2" y="380.9" font-size="16" font-weight="bold" text-anchor="middle" fill="#000">Out of the</text>
<text x="751.2" y="398.5" font-size="16" font-weight="bold" text-anchor="middle" fill="#000">zone</text>
<text transform="translate(12.5,19.8) scale(0.91,1)" x="0" y="0" font-size="27.8" fill="#000" stroke="#000" stroke-width="0.4">A</text>
<text x="428.9" y="19.8" font-size="27.8" fill="#000" stroke="#000" stroke-width="0.4">B</text>
</svg></body></html>
